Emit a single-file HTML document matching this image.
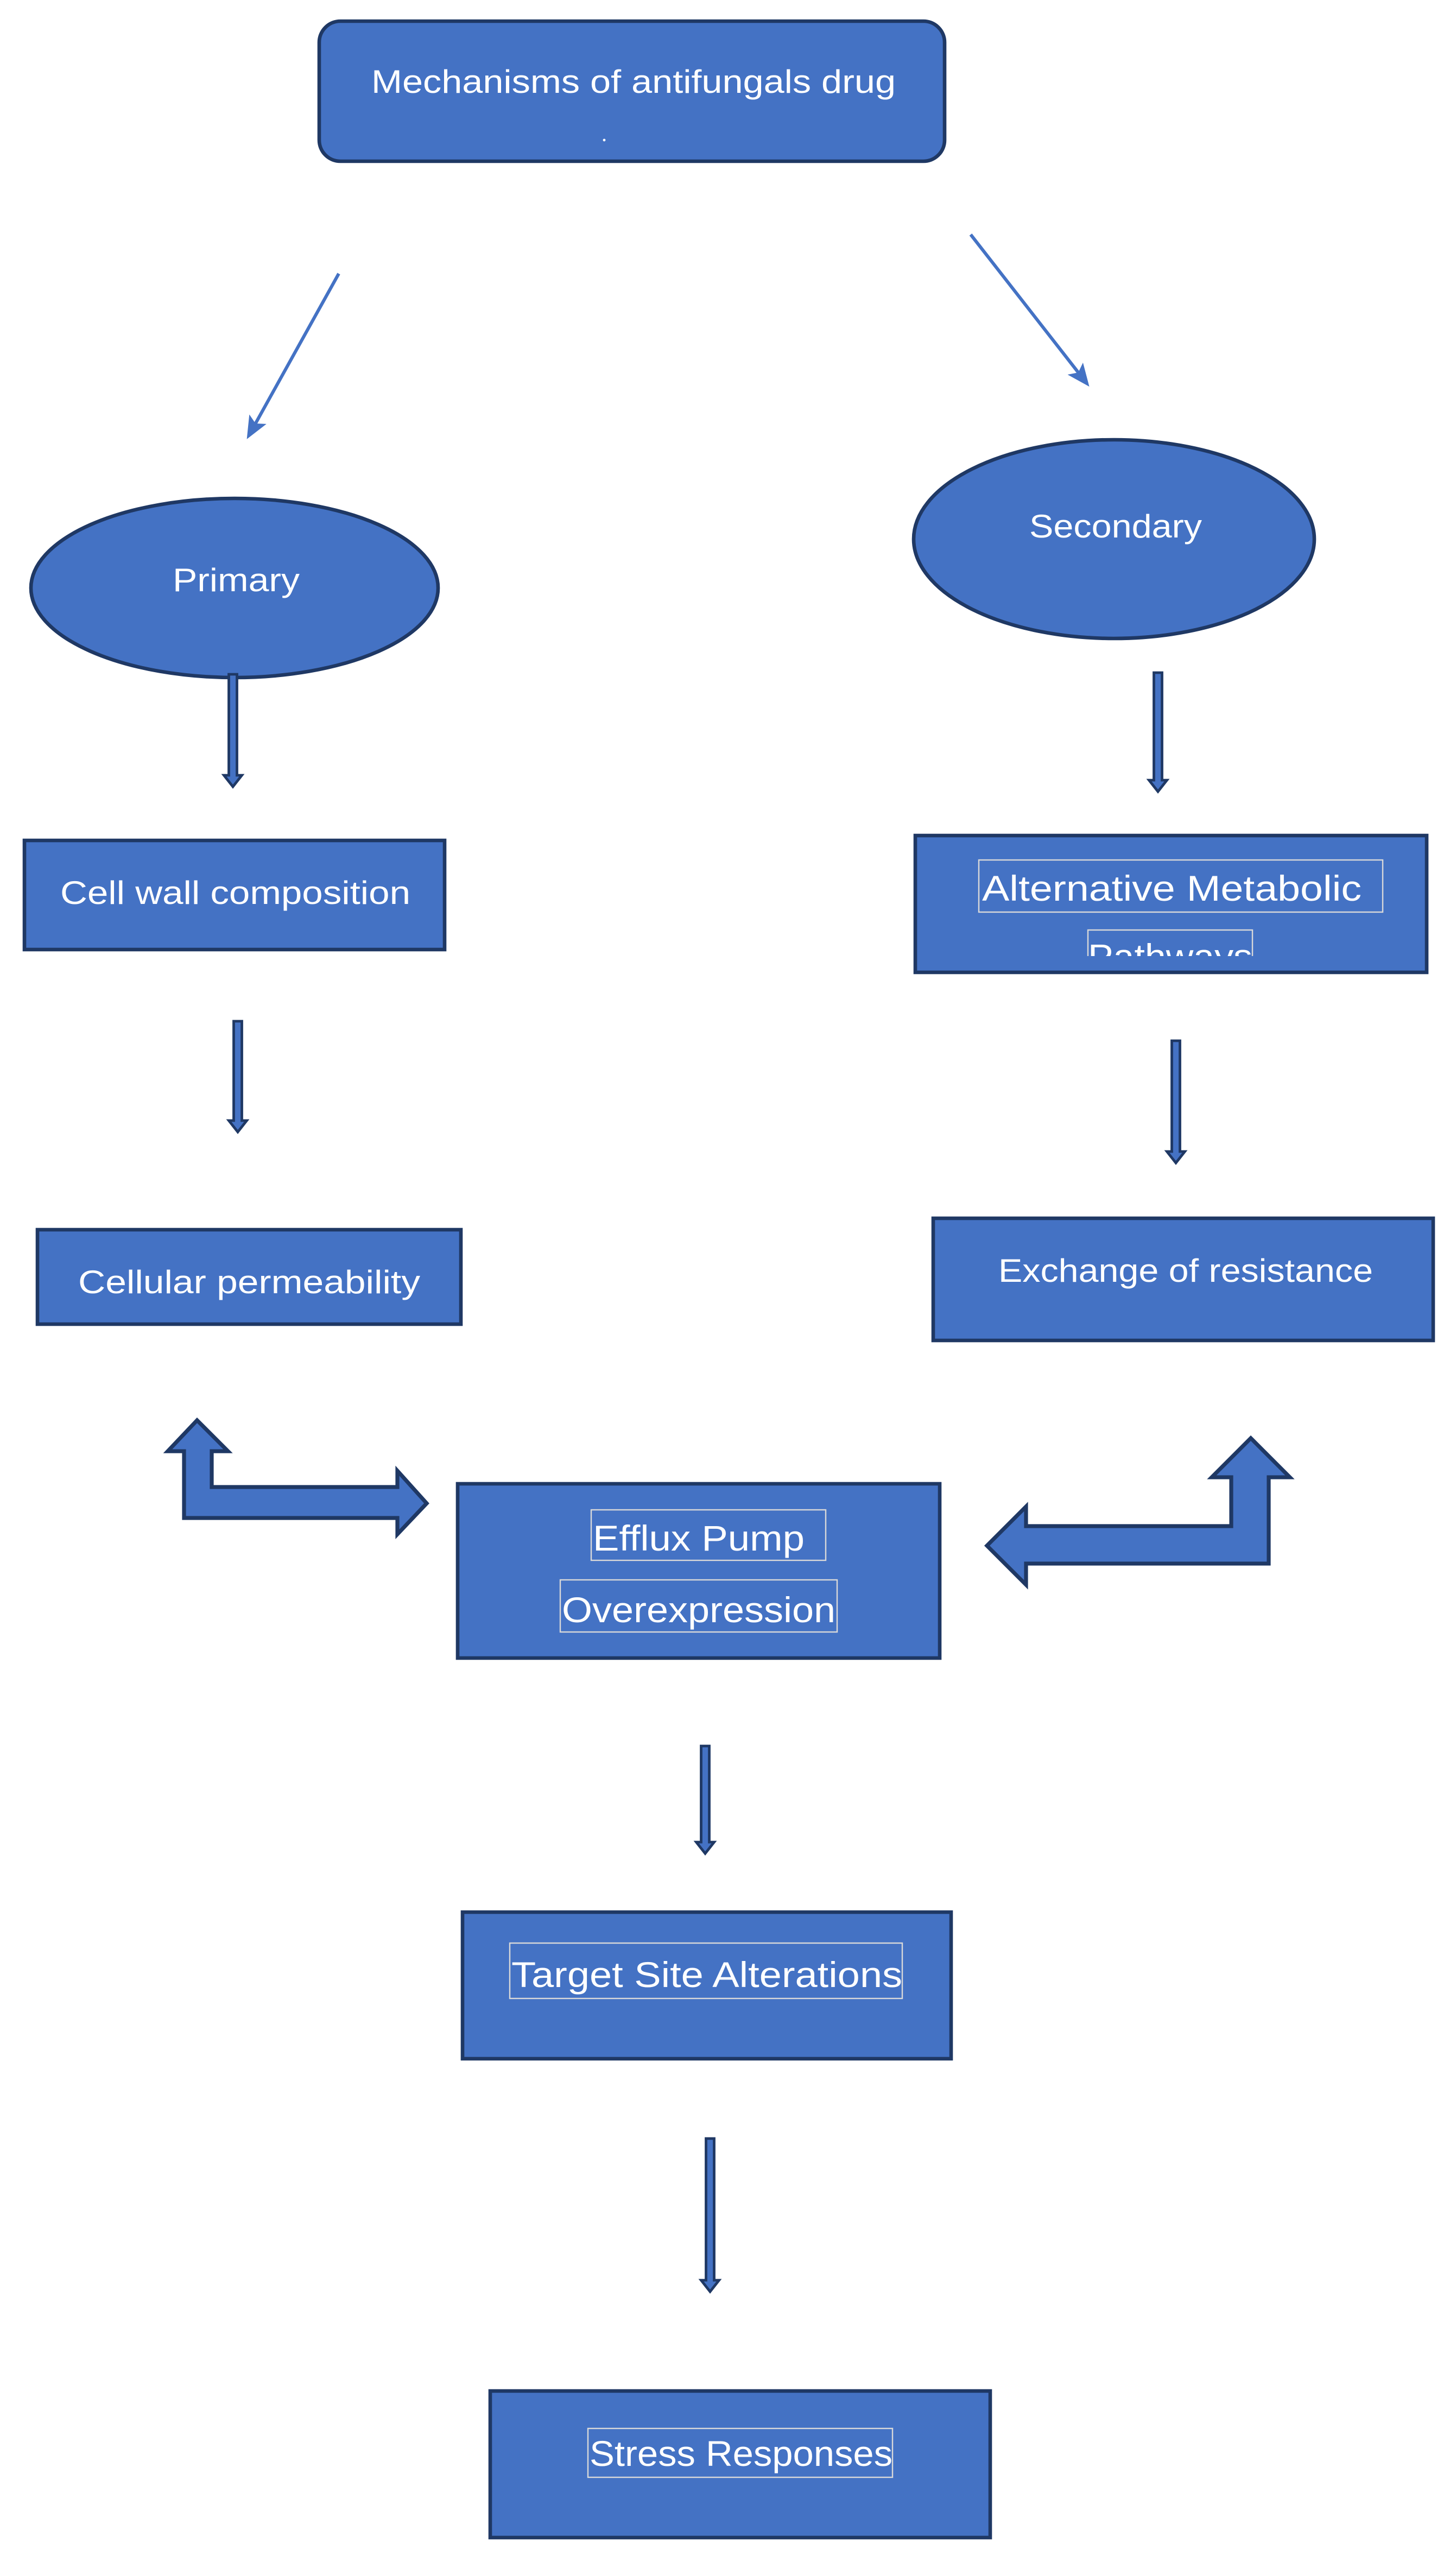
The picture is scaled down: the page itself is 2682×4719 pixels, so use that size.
<!DOCTYPE html>
<html><head><meta charset="utf-8"><style>html,body{margin:0;padding:0;background:#fff}svg{display:block}</style></head>
<body>
<svg width="2682" height="4719" viewBox="0 0 894 1573" xmlns="http://www.w3.org/2000/svg" font-family="'Liberation Sans', sans-serif" fill="#fff">
<defs>
<clipPath id="cp"><rect x="560" y="560" width="320" height="27"/></clipPath>
<marker id="ah" markerWidth="14" markerHeight="12" refX="11" refY="6" orient="auto" markerUnits="userSpaceOnUse"><path d="M0,0 L14,6 L0,12 L3,6 Z" fill="#4472c4"/></marker>
</defs>
<g stroke="#1f3864" stroke-width="2.2" fill="#4472c4">
<rect x="196" y="13" width="384" height="86" rx="13"/>
<ellipse cx="144" cy="361" rx="125" ry="55"/>
<ellipse cx="684" cy="331" rx="123" ry="61"/>
<rect x="15" y="516" width="258" height="67"/>
<rect x="562" y="513" width="314" height="84"/>
<rect x="23" y="755" width="260" height="58"/>
<rect x="573" y="748" width="307" height="75"/>
<rect x="281" y="911" width="296" height="107"/>
<rect x="284" y="1174" width="300" height="90"/>
<rect x="301" y="1468" width="307" height="90"/>
<path d="M113,932 L113,891 L103,891 L121,872 L140,891 L130,891 L130,913 L244,913 L244,903 L262,923 L244,942 L244,932 Z" stroke-width="2.4"/>
<path d="M779,960 L779,907 L792,907 L768,883 L744,907 L756,907 L756,937 L630,937 L630,925 L606,949 L630,973 L630,960 Z" stroke-width="2.4"/>
<g stroke-width="1.6">
<path d="M140.5,414 L145.5,414 L145.5,476 L148.5,476 L143,483 L137.5,476 L140.5,476 Z"/>
<path d="M708.5,413 L713.5,413 L713.5,479 L716.5,479 L711,486 L705.5,479 L708.5,479 Z"/>
<path d="M143.5,627 L148.5,627 L148.5,688 L151.5,688 L146,695 L140.5,688 L143.5,688 Z"/>
<path d="M719.5,639 L724.5,639 L724.5,707 L727.5,707 L722,714 L716.5,707 L719.5,707 Z"/>
<path d="M430.5,1072 L435.5,1072 L435.5,1131 L438.5,1131 L433,1138 L427.5,1131 L430.5,1131 Z"/>
<path d="M433.5,1313 L438.5,1313 L438.5,1400 L441.5,1400 L436,1407 L430.5,1400 L433.5,1400 Z"/>
</g>
</g>
<g stroke="#4472c4" stroke-width="2" fill="none">
<line x1="208" y1="168" x2="153" y2="267" marker-end="url(#ah)"/>
<line x1="596" y1="144" x2="667" y2="235" marker-end="url(#ah)"/>
</g>
<g stroke="#d9d9d9" stroke-width="0.8" fill="none">
<rect x="601" y="528" width="248" height="32"/>
<rect x="668" y="571" width="101" height="30" clip-path="url(#cp)"/>
<rect x="363" y="927" width="144" height="31"/>
<rect x="344" y="970" width="170" height="32"/>
<rect x="313" y="1193" width="241" height="34"/>
<rect x="361" y="1491" width="187" height="30"/>
</g>
<g font-size="20">
<text x="228" y="57" textLength="322" lengthAdjust="spacingAndGlyphs">Mechanisms of antifungals drug</text>
<circle cx="371" cy="86" r="0.8"/>
<text x="106" y="363" textLength="78" lengthAdjust="spacingAndGlyphs">Primary</text>
<text x="632" y="330" textLength="106" lengthAdjust="spacingAndGlyphs">Secondary</text>
<text x="37" y="555" textLength="215" lengthAdjust="spacingAndGlyphs">Cell wall composition</text>
<text x="603" y="553" font-size="22" textLength="233" lengthAdjust="spacingAndGlyphs">Alternative Metabolic</text>
<text x="668" y="595" font-size="22" textLength="101" lengthAdjust="spacingAndGlyphs" clip-path="url(#cp)">Pathways</text>
<text x="48" y="794" textLength="210" lengthAdjust="spacingAndGlyphs">Cellular permeability</text>
<text x="613" y="787" textLength="230" lengthAdjust="spacingAndGlyphs">Exchange of resistance</text>
<text x="364" y="952" font-size="22" textLength="130" lengthAdjust="spacingAndGlyphs">Efflux Pump</text>
<text x="345" y="996" font-size="22" textLength="168" lengthAdjust="spacingAndGlyphs">Overexpression</text>
<text x="314" y="1220" font-size="22" textLength="240" lengthAdjust="spacingAndGlyphs">Target Site Alterations</text>
<text x="362" y="1514" font-size="22" textLength="186" lengthAdjust="spacingAndGlyphs">Stress Responses</text>
</g>
</svg>
</body></html>
